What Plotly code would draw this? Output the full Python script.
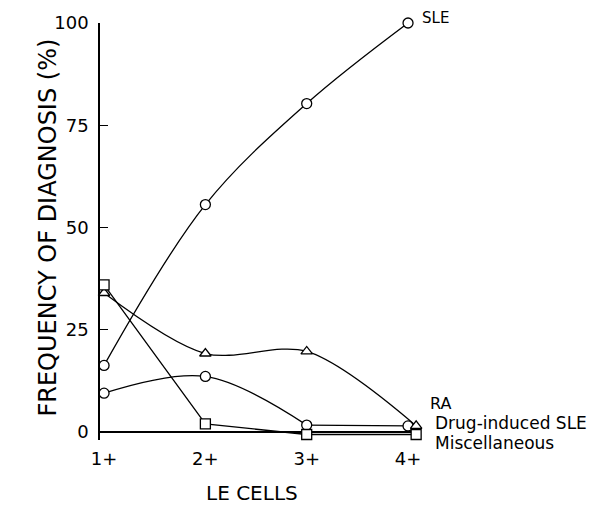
import plotly.graph_objects as go

categories = ["1+", "2+", "3+", "4+"]
x_pos = [1, 2, 3, 4]
sle = [16.3, 55.6, 80.3, 100]
ra = [9.5, 13.6, 1.7, 1.5]
drug = [34, 19.2, 19.7, 1.5]
misc = [36, 2, -0.6, -0.6]
end_shift = [0, 0, 0, 0.08]  # small horizontal offset of the last marker in the original

series_labels = ["SLE", "RA", "Drug-induced SLE", "Miscellaneous"]
label_px = [(420, 15), (428, 403), (433, 423), (433, 443)]  # label anchor positions (pixels)
label_sizes = [15, 16, 17, 17]

FONT = "DejaVu Sans"
LW = 1.3
mk = dict(color="white", size=10, line=dict(color="black", width=LW))
PL, PT, PW, PH = 100, 20, 321, 420

fig = go.Figure()
fig.add_trace(go.Scatter(x=x_pos, y=sle, mode="lines+markers",
                         line=dict(color="black", width=LW, shape="spline", smoothing=1.0),
                         marker=dict(symbol="circle", **mk), cliponaxis=False))
# RA: smooth over the first three points, straight to the last
fig.add_trace(go.Scatter(x=x_pos[2:], y=ra[2:], mode="lines",
                         line=dict(color="black", width=LW), cliponaxis=False))
fig.add_trace(go.Scatter(x=x_pos[:3], y=ra[:3], mode="lines",
                         line=dict(color="black", width=LW, shape="spline", smoothing=1.0),
                         cliponaxis=False))
fig.add_trace(go.Scatter(x=x_pos, y=ra, mode="markers",
                         marker=dict(symbol="circle", **mk), cliponaxis=False))
xd = [a + b for a, b in zip(x_pos, end_shift)]
fig.add_trace(go.Scatter(x=xd, y=drug, mode="lines+markers",
                         line=dict(color="black", width=LW, shape="spline", smoothing=0.9),
                         marker=dict(symbol="triangle-up", **mk), cliponaxis=False))
fig.add_trace(go.Scatter(x=xd, y=misc, mode="lines+markers",
                         line=dict(color="black", width=LW),
                         marker=dict(symbol="square", **mk), cliponaxis=False))

for txt, (px, py), fs in zip(series_labels, label_px, label_sizes):
    fig.add_annotation(xref="paper", yref="paper", x=(px - PL) / PW, y=(PT + PH - py) / PH,
                       text=txt, showarrow=False, xanchor="left", yanchor="middle",
                       font=dict(family=FONT, size=fs, color="black"))

fig.add_annotation(xref="paper", yref="paper", x=(32 - PL) / PW, y=(PT + PH - 226) / PH,
                   text="FREQUENCY OF DIAGNOSIS (%)", textangle=-90, showarrow=False,
                   font=dict(family=FONT, size=24, color="black"))
fig.add_annotation(xref="paper", yref="paper", x=(252 - PL) / PW, y=(PT + PH - 493) / PH,
                   text="LE CELLS", showarrow=False, yanchor="middle",
                   font=dict(family=FONT, size=20, color="black"))

fig.update_layout(
    width=604, height=505, showlegend=False,
    margin=dict(l=PL, r=604 - PL - PW, t=PT, b=505 - PT - PH),
    plot_bgcolor="white", paper_bgcolor="white",
    xaxis=dict(range=[0.96, 4.128], tickvals=x_pos, ticktext=categories, showgrid=False,
               zeroline=False, showline=False, ticks="",
               ticklabelstandoff=6, tickfont=dict(family=FONT, size=18, color="black")),
    yaxis=dict(range=[-8 / 4.12, 100], tickvals=[0, 25, 50, 75, 100], showgrid=False,
               zeroline=True, zerolinecolor="black", zerolinewidth=1.5,
               showline=True, linecolor="black", linewidth=1.5, ticks="inside", ticklen=8,
               tickcolor="black", tickwidth=1.3, ticklabelstandoff=6,
               tickfont=dict(family=FONT, size=18, color="black")),
)
fig.write_html("out.html", config={"displayModeBar": False},
               post_script="document.body.style.margin='0';")
